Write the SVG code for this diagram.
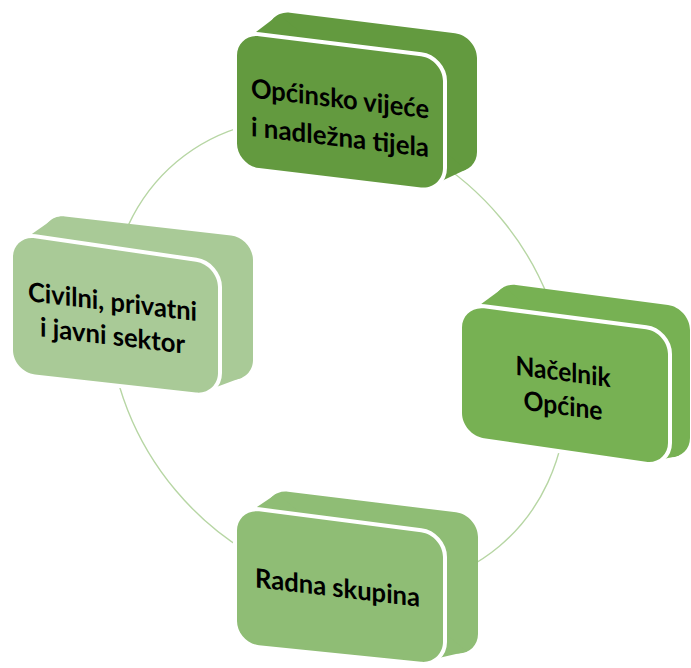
<svg xmlns="http://www.w3.org/2000/svg" width="691" height="668" viewBox="0 0 691 668">
<style>
.ring{fill:none;stroke:#b7d6a4;stroke-width:1.4}
.front{stroke:#ffffff;stroke-width:8;paint-order:stroke;stroke-linejoin:round}
.c1{fill:#639a3f}
.c2{fill:#77b153}
.c3{fill:#8fbd75}
.c4{fill:#a9ca97}
.lbl{font-family:Lato,"Open Sans","Liberation Sans",sans-serif;font-weight:700;font-size:26.5px;fill:#000;text-anchor:middle}
</style>
<rect width="691" height="668" fill="#ffffff"/>
<g id="connectors">
<ellipse class="ring" cx="338" cy="354" rx="251" ry="212" transform="rotate(50 338 354)"/>
</g>
<g id="node-top" class="c1">
<path d="M290,12.7 L455,33.3 C467,34.8 477,46 477,58 L477,152 C477,164 467,172.8 455,171.3 L290,150.7 C278,149.2 268,138 268,126 L268,32 C268,20 278,11.2 290,12.7 Z"/>
<polygon points="248,38 279,14.5 466,169.5 432,185.5"/>
<path class="front" d="M259,36.2 L421,56.3 C433,57.8 443,69 443,81 L443,168 C443,180 433,188.8 421,187.4 L259,168.1 C247,166.7 237,155.5 237,143.5 L237,55.5 C237,43.5 247,34.7 259,36.2 Z"/>
<g transform="translate(340,0) skewY(6.8)">
<text class="lbl" x="0" y="108" textLength="178" lengthAdjust="spacingAndGlyphs">Općinsko vijeće</text>
<text class="lbl" x="0" y="146.5" textLength="178" lengthAdjust="spacingAndGlyphs">i nadležna tijela</text>
</g>
</g>
<g id="node-right" class="c2">
<path d="M516,284.9 L668,305.1 C680,306.7 690,318 690,330 L690,438 C690,450 680,458.7 668,457.1 L516,436.9 C504,435.3 494,424 494,412 L494,304 C494,292 504,283.3 516,284.9 Z"/>
<polygon points="473,310 505,286.4 679,455.6 657,460.6"/>
<path class="front" d="M484,308.3 L646,329.2 C658,330.7 668,342 668,354 L668,443 C668,455 658,463.5 646,461.8 L484,438.2 C472,436.5 462,425 462,413 L462,327.5 C462,315.5 472,306.8 484,308.3 Z"/>
<g transform="translate(563,0) skewY(7.4)">
<text class="lbl" x="0" y="381" textLength="95" lengthAdjust="spacingAndGlyphs">Načelnik</text>
<text class="lbl" x="0" y="415" textLength="79" lengthAdjust="spacingAndGlyphs">Općine</text>
</g>
</g>
<g id="node-bottom" class="c3">
<path d="M288,491.7 L456,512.3 C468,513.8 478,525 478,537 L478,634 C478,646 468,654.8 456,653.3 L288,632.7 C276,631.2 266,620 266,608 L266,511 C266,499 276,490.2 288,491.7 Z"/>
<polygon points="248,513 277,493.4 467,651.6 432,659.6"/>
<path class="front" d="M259,511.3 L421,532.2 C433,533.7 443,545 443,557 L443,642 C443,654 433,663 421,661.8 L259,645.2 C247,644 237,633 237,621 L237,530.5 C237,518.5 247,509.8 259,511.3 Z"/>
<g transform="translate(337.5,0) skewY(6.8)">
<text class="lbl" x="0" y="597" textLength="165" lengthAdjust="spacingAndGlyphs">Radna skupina</text>
</g>
</g>
<g id="node-left" class="c4">
<path d="M65,216.5 L231,235.5 C243,236.9 253,248 253,260 L253,360 C253,372 243,380.9 231,379.5 L65,360.5 C53,359.1 43,348 43,336 L43,236 C43,224 53,215.1 65,216.5 Z"/>
<polygon points="24,239.4 54,218.4 242,377.6 207,390.6"/>
<path class="front" d="M35,238.2 L196,261.8 C208,263.5 218,275 218,287 L218,373 C218,385 208,393.9 196,392.5 L35,374.5 C23,373.1 13,362 13,350 L13,257 C13,245 23,236.5 35,238.2 Z"/>
<g transform="translate(112.5,0) skewY(6.8)">
<text class="lbl" x="0" y="311" textLength="169" lengthAdjust="spacingAndGlyphs">Civilni, privatni</text>
<text class="lbl" x="0" y="345" textLength="145" lengthAdjust="spacingAndGlyphs">i javni sektor</text>
</g>
</g>
</svg>
